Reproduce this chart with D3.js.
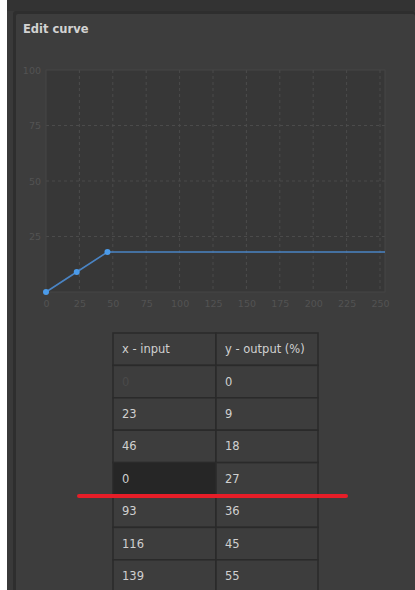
<!DOCTYPE html>
<html>
<head>
<meta charset="utf-8">
<script src="https://cdn.jsdelivr.net/npm/d3@7"></script>
<style>
  body { margin: 0; background: #fff; }
  svg { display: block; font-family: "DejaVu Sans", sans-serif; }
</style>
</head>
<body>
<div id="chart"></div>
<script>
// curve points (x - input, y - output %)
var curveX = [0, 23, 46];
var curveY = [0, 9, 18];
var xTicks = [0, 25, 50, 75, 100, 125, 150, 175, 200, 225, 250];
var yTicks = [0, 25, 50, 75, 100];
var headers = ["x - input", "y - output (%)"];
var tableInput = ["0", "23", "46", "0", "93", "116", "139"];
var tableOutput = ["0", "9", "18", "27", "36", "45", "55"];

var W = 415, H = 590;
var svg = d3.select("#chart").append("svg")
  .attr("width", W).attr("height", H);

// window frame
svg.append("rect").attr("x", 7).attr("y", 0).attr("width", W - 7).attr("height", H).attr("fill", "#393939");
svg.append("rect").attr("x", 7).attr("y", 0).attr("width", W - 7).attr("height", 11).attr("fill", "#333");
svg.append("rect").attr("x", 13).attr("y", 11).attr("width", W - 13).attr("height", H).attr("fill", "#2e2e2e").attr("rx", 3);
svg.append("rect").attr("x", 16).attr("y", 14).attr("width", W - 16).attr("height", H).attr("fill", "#3d3d3d").attr("rx", 2);

svg.append("text").attr("x", 23).attr("y", 33)
  .attr("fill", "#d2d2d2").attr("font-size", 11.5).attr("font-weight", "bold")
  .text("Edit curve");

// plot
var margin = { left: 46, top: 70 };
var plotW = 339, plotH = 222;
var g = svg.append("g").attr("transform", "translate(" + margin.left + "," + margin.top + ")");

var x = d3.scaleLinear().domain([0, 250]).range([0, 334]);
var y = d3.scaleLinear().domain([0, 100]).range([plotH, 0]);

g.append("rect").attr("width", plotW).attr("height", plotH)
  .attr("fill", "#373737");

// grid
g.selectAll(".vgrid").data(xTicks.slice(1))
  .enter().append("line")
  .attr("x1", function(d) { return x(d); }).attr("x2", function(d) { return x(d); })
  .attr("y1", 0).attr("y2", plotH)
  .attr("stroke", "#4b4b4b").attr("stroke-dasharray", "3,3");
g.selectAll(".hgrid").data(yTicks.slice(1, -1))
  .enter().append("line")
  .attr("y1", function(d) { return y(d); }).attr("y2", function(d) { return y(d); })
  .attr("x1", 0).attr("x2", plotW)
  .attr("stroke", "#4b4b4b").attr("stroke-dasharray", "3,3");

g.append("rect").attr("width", plotW).attr("height", plotH)
  .attr("fill", "none").attr("stroke", "#464646");

// axes labels (the shared 0 only shows once, under the x axis)
var xAxis = d3.axisBottom(x).tickValues(xTicks).tickSize(0).tickPadding(8);
var xg = g.append("g").attr("transform", "translate(0," + plotH + ")").call(xAxis);
var yAxis = d3.axisLeft(y).tickValues(yTicks.slice(1)).tickSize(0).tickPadding(5);
var yg = g.append("g").call(yAxis);
[xg, yg].forEach(function(a) {
  a.select(".domain").remove();
  a.selectAll("text").attr("fill", "#535353").attr("font-size", 9.5)
    .attr("font-family", "DejaVu Sans, sans-serif");
});

// curve, held flat to the right edge of the plot
var pts = curveX.map(function(d, i) { return [d, curveY[i]]; });
var linePts = pts.concat([[x.invert(plotW), curveY[curveY.length - 1]]]);
g.append("path").datum(linePts)
  .attr("d", d3.line().x(function(d) { return x(d[0]); }).y(function(d) { return y(d[1]); }))
  .attr("fill", "none").attr("stroke", "#4a84c4").attr("stroke-width", 1.6);
g.selectAll(".pt").data(pts).enter().append("circle")
  .attr("cx", function(d) { return x(d[0]); }).attr("cy", function(d) { return y(d[1]); })
  .attr("r", 3).attr("fill", "#4b9bea");

// table
var tx = 113, colW = [103, 102], rowH = 32.4, ty = 333;
var rowY = d3.scaleLinear().domain([0, 1]).range([ty, ty + rowH]);
var rows = [headers].concat(tableInput.map(function(d, i) { return [d, tableOutput[i]]; }));
var t = svg.append("g");
rows.forEach(function(r, i) {
  r.forEach(function(c, j) {
    var cx = tx + (j ? colW[0] : 0);
    var selected = (i === 4 && j === 0);
    t.append("rect").attr("x", cx).attr("y", rowY(i))
      .attr("width", colW[j]).attr("height", rowH)
      .attr("fill", selected ? "#262626" : "#3d3d3d")
      .attr("stroke", "#2a2a2a").attr("stroke-width", 1.5);
    t.append("text").attr("x", cx + 9).attr("y", rowY(i) + rowH / 2 + 4)
      .attr("font-size", 11.5)
      .attr("fill", (i === 1 && j === 0) ? "#4a4a4a" : "#d0d0d0")
      .text(c);
  });
});

// red marker line
svg.append("line").attr("x1", 79).attr("x2", 346).attr("y1", 496).attr("y2", 496)
  .attr("stroke", "#e61e28").attr("stroke-width", 4).attr("stroke-linecap", "round");
</script>
</body>
</html>
